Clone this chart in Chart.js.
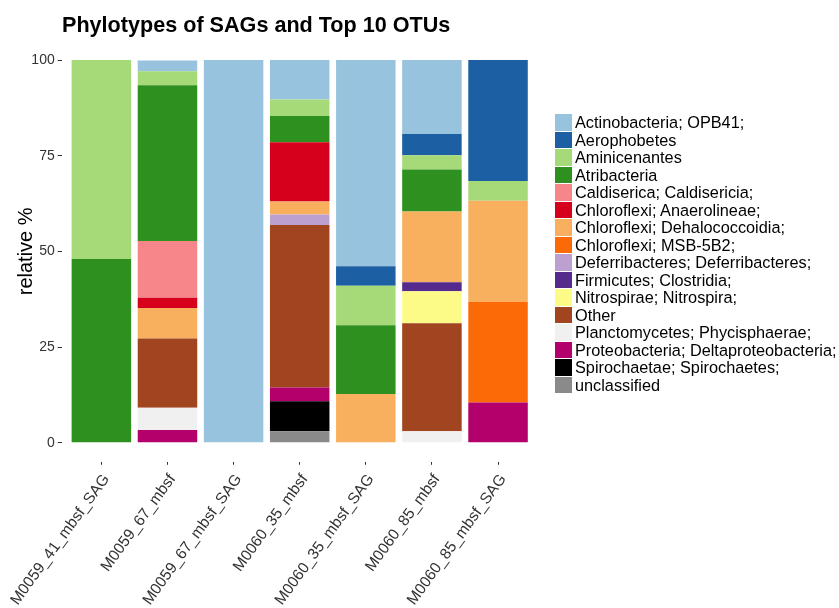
<!DOCTYPE html>
<html>
<head>
<meta charset="utf-8">
<title>Phylotypes of SAGs and Top 10 OTUs</title>
<script src="https://cdn.jsdelivr.net/npm/chart.js@4.4.0/dist/chart.umd.min.js"></script>
<style>
  html, body { margin: 0; padding: 0; background: #fff; }
  #wrap { position: relative; width: 839px; height: 608px; overflow: hidden; font-family: "Liberation Sans", Arial, Helvetica, sans-serif; }
  #chart { position: absolute; left: 0; top: 0; }
  #title { position: absolute; left: 62px; top: 14px; font-size: 21.6px; line-height: 21px; font-weight: bold; color: #000; white-space: nowrap; }
  #legend { position: absolute; left: 555px; top: 114px; font-size: 16.3px; color: #000; }
  .item { position: relative; height: 17.5px; line-height: 17.5px; padding-left: 20px; white-space: nowrap; }
  .box { position: absolute; left: 0; top: 0; width: 16.7px; height: 16.5px; }
</style>
</head>
<body>
<div id="wrap">
  <canvas id="chart" width="839" height="608"></canvas>
  <div id="title">Phylotypes of SAGs and Top 10 OTUs</div>
  <div id="legend"></div>
</div>
<script>
// ======================================================
// Data (relative %)
// ======================================================

const samples = [
  'M0059_41_mbsf_SAG', 'M0059_67_mbsf', 'M0059_67_mbsf_SAG', 'M0060_35_mbsf',
  'M0060_35_mbsf_SAG', 'M0060_85_mbsf', 'M0060_85_mbsf_SAG'
];

const taxa = [
  'Actinobacteria; OPB41;', 'Aerophobetes', 'Aminicenantes', 'Atribacteria',
  'Caldiserica; Caldisericia;', 'Chloroflexi; Anaerolineae;', 'Chloroflexi; Dehalococcoidia;',
  'Chloroflexi; MSB-5B2;', 'Deferribacteres; Deferribacteres;', 'Firmicutes; Clostridia;',
  'Nitrospirae; Nitrospira;', 'Other', 'Planctomycetes; Phycisphaerae;',
  'Proteobacteria; Deltaproteobacteria;', 'Spirochaetae; Spirochaetes;', 'unclassified'
];

const taxaColors = [
  '#98c3de', '#1c5fa3', '#a6da79', '#2e911f', '#f6868a', '#d7001c', '#f8b05e', '#fb6a07',
  '#bba0d0', '#552a8c', '#fdfb88', '#a04520', '#f0f0f0', '#b4006b', '#000000', '#8a8a8a'
];

const actinobacteria = [0, 2.8, 100, 10.3, 53.9, 19.3, 0];
const aerophobetes   = [0, 0, 0, 0, 5.1, 5.6, 31.6];
const aminicenantes  = [52, 3.7, 0, 4.3, 10.3, 3.7, 5.2];
const atribacteria   = [48, 40.7, 0, 6.9, 18.0, 11.0, 0];
const caldiserica    = [0, 14.8, 0, 0, 0, 0, 0];
const anaerolineae   = [0, 2.7, 0, 15.5, 0, 0, 0];
const dehalococcoidia = [0, 8.0, 0, 3.4, 12.7, 18.5, 26.4];
const msb5b2         = [0, 0, 0, 0, 0, 0, 26.3];
const deferribacteres = [0, 0, 0, 2.7, 0, 0, 0];
const clostridia     = [0, 0, 0, 0, 0, 2.3, 0];
const nitrospira     = [0, 0, 0, 0, 0, 8.4, 0];
const other          = [0, 18.1, 0, 42.5, 0, 28.2, 0];
const phycisphaerae  = [0, 5.8, 0, 0, 0, 3.0, 0];
const deltaproteo    = [0, 3.3, 0, 3.6, 0, 0, 10.5];
const spirochaetes   = [0, 0, 0, 7.8, 0, 0, 0];
const unclassified   = [0, 0, 0, 3.0, 0, 0, 0];

const yTicks = [0, 25, 50, 75, 100];

const taxaValues = [
  actinobacteria, aerophobetes, aminicenantes, atribacteria, caldiserica, anaerolineae,
  dehalococcoidia, msb5b2, deferribacteres, clostridia, nitrospira, other,
  phycisphaerae, deltaproteo, spirochaetes, unclassified
];

// ======================================================
// Chart
// ======================================================

Chart.defaults.font.family = '"Liberation Sans", Arial, Helvetica, sans-serif';

// first taxon sits on top of the stack, so build datasets bottom-up
const datasets = taxa.map((name, i) => ({
  label: name,
  data: taxaValues[i].map((v, j) => ({ x: j + 1, y: v })),
  backgroundColor: taxaColors[i],
  borderWidth: 0
})).reverse();

const chart = new Chart(document.getElementById('chart'), {
  type: 'bar',
  data: { datasets: datasets },
  options: {
    responsive: false,
    animation: false,
    layout: { padding: { left: 0, right: 301.3, top: 40.9, bottom: 0 } },
    datasets: { bar: { barPercentage: 0.9, categoryPercentage: 1.0 } },
    plugins: {
      legend: { display: false },
      title: { display: false },
      tooltip: { enabled: false }
    },
    scales: {
      x: {
        type: 'linear',
        stacked: true,
        offset: false,
        min: 0.4,
        max: 7.6,
        afterBuildTicks: axis => { axis.ticks = samples.map((s, i) => ({ value: i + 1 })); },
        afterFit: axis => { axis.height = 146.2; axis.paddingLeft = 0; axis.paddingRight = 0; },
        grid: { offset: false, drawOnChartArea: false, drawTicks: true, tickLength: 3, color: '#333' },
        border: { display: false },
        ticks: {
          autoSkip: false,
          minRotation: 54,
          maxRotation: 54,
          padding: 6,
          labelOffset: 5,
          color: '#333',
          font: { size: 15.5 },
          callback: v => samples[v - 1]
        }
      },
      y: {
        stacked: true,
        min: -5,
        max: 105,
        afterBuildTicks: axis => { axis.ticks = yTicks.map(v => ({ value: v })); },
        afterFit: axis => { axis.width = 61.7; axis.paddingTop = 0; axis.paddingBottom = 0; },
        grid: { drawOnChartArea: false, drawTicks: true, tickLength: 4, color: '#333' },
        border: { display: false },
        ticks: { padding: 3, color: '#333', font: { size: 14 } },
        title: {
          display: true,
          text: 'relative %',
          color: '#000',
          font: { size: 20 },
          padding: { top: 14, bottom: 0 }
        }
      }
    }
  }
});

// HTML legend, same order as the taxa list
const legendEl = document.getElementById('legend');
taxa.forEach((name, i) => {
  const row = document.createElement('div');
  row.className = 'item';
  const box = document.createElement('span');
  box.className = 'box';
  box.style.background = taxaColors[i];
  row.appendChild(box);
  row.appendChild(document.createTextNode(name));
  legendEl.appendChild(row);
});
</script>
</body>
</html>
